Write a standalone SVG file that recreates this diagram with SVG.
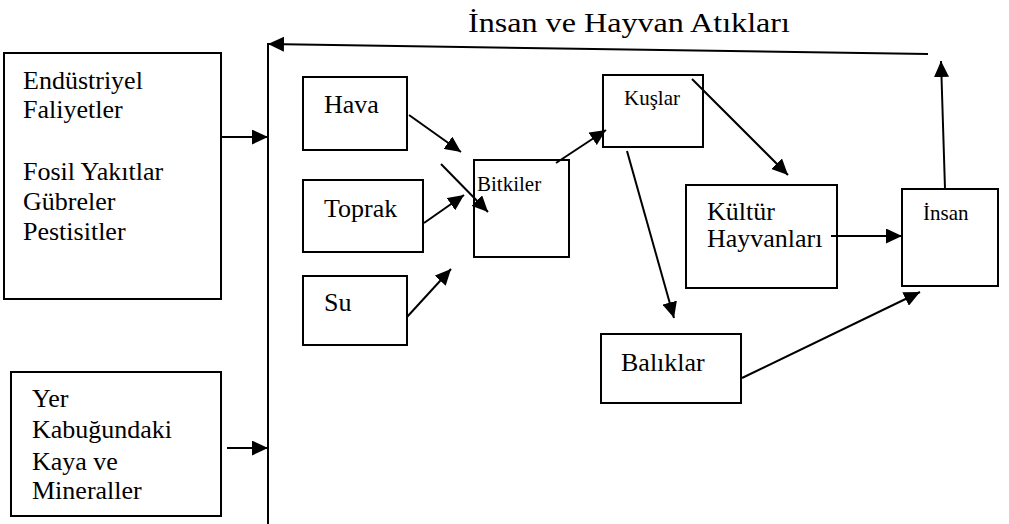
<svg xmlns="http://www.w3.org/2000/svg" width="1009" height="524" viewBox="0 0 1009 524">
<style>
.box{fill:#fff;stroke:#000;stroke-width:2}
text{font-family:"Liberation Serif","Times New Roman",serif;fill:#000}
.t{font-size:26px}
.s{font-size:21px}
.c{stroke:#000;stroke-width:2;fill:none}
.a{marker-end:url(#ah)}
</style>
<defs>
<marker id="ah" markerUnits="userSpaceOnUse" markerWidth="17" markerHeight="15" refX="16" refY="7.5" orient="auto">
<path d="M0,0 L16,7.5 L0,15 z" fill="#000"/>
</marker>
</defs>
<rect width="1009" height="524" fill="#fff"/>
<text x="468" y="32" font-family="Liberation Serif, serif" font-size="27" textLength="322" lengthAdjust="spacingAndGlyphs">İnsan ve Hayvan Atıkları</text>

<g id="endustriyel" font-family="Liberation Serif, serif">
<rect class="box" x="4" y="53" width="217" height="246"/>
<text class="t" x="23" y="89">Endüstriyel</text>
<text class="t" x="23" y="118">Faliyetler</text>
<text class="t" x="23" y="180">Fosil Yakıtlar</text>
<text class="t" x="23" y="210">Gübreler</text>
<text class="t" x="23" y="240">Pestisitler</text>
</g>
<g id="yer" font-family="Liberation Serif, serif">
<rect class="box" x="11" y="372" width="210" height="144"/>
<text class="t" x="32" y="407">Yer</text>
<text class="t" x="32" y="438">Kabuğundaki</text>
<text class="t" x="32" y="470">Kaya ve</text>
<text class="t" x="32" y="499">Mineraller</text>
</g>
<g id="hava" font-family="Liberation Serif, serif">
<rect class="box" x="303" y="77" width="104" height="73"/>
<text class="t" x="324" y="113">Hava</text>
</g>
<g id="toprak" font-family="Liberation Serif, serif">
<rect class="box" x="303" y="180" width="120" height="72"/>
<text class="t" x="324" y="217">Toprak</text>
</g>
<g id="su" font-family="Liberation Serif, serif">
<rect class="box" x="303" y="276" width="104" height="69"/>
<text class="t" x="324" y="311">Su</text>
</g>
<g id="bitkiler" font-family="Liberation Serif, serif">
<rect class="box" x="474" y="160" width="95" height="97"/>
<text class="s" x="477" y="191">Bitkiler</text>
</g>
<g id="kuslar" font-family="Liberation Serif, serif">
<rect class="box" x="603" y="75" width="100" height="72"/>
<text class="s" x="624" y="105">Kuşlar</text>
</g>
<g id="kultur" font-family="Liberation Serif, serif">
<rect class="box" x="686" y="185" width="151" height="103"/>
<text class="t" x="707" y="220">Kültür</text>
<text class="t" x="707" y="247">Hayvanları</text>
</g>
<g id="baliklar" font-family="Liberation Serif, serif">
<rect class="box" x="601" y="334" width="140" height="69"/>
<text class="t" x="621" y="371">Balıklar</text>
</g>
<g id="insan" font-family="Liberation Serif, serif">
<rect class="box" x="902" y="189" width="96" height="97"/>
<text class="s" x="923" y="220">İnsan</text>
</g>

<g id="connectors">
<line class="c" x1="268" y1="43" x2="268" y2="524"/>
<line class="c a" x1="928" y1="54" x2="268" y2="44"/>
<line class="c a" x1="945" y1="189" x2="941" y2="61"/>
<line class="c a" x1="221" y1="137" x2="268" y2="137"/>
<line class="c a" x1="227" y1="448" x2="268" y2="448"/>
<line class="c a" x1="409" y1="115" x2="461" y2="152"/>
<line class="c a" x1="441" y1="164" x2="488" y2="212"/>
<line class="c a" x1="424" y1="223" x2="464" y2="195"/>
<line class="c a" x1="407" y1="317" x2="451" y2="269"/>
<line class="c a" x1="556" y1="163" x2="606" y2="130"/>
<line class="c a" x1="692" y1="79" x2="788" y2="175"/>
<line class="c a" x1="627" y1="151" x2="674" y2="318"/>
<line class="c a" x1="831" y1="236" x2="902" y2="236"/>
<line class="c a" x1="742" y1="378" x2="920" y2="292"/>
</g>
</svg>
